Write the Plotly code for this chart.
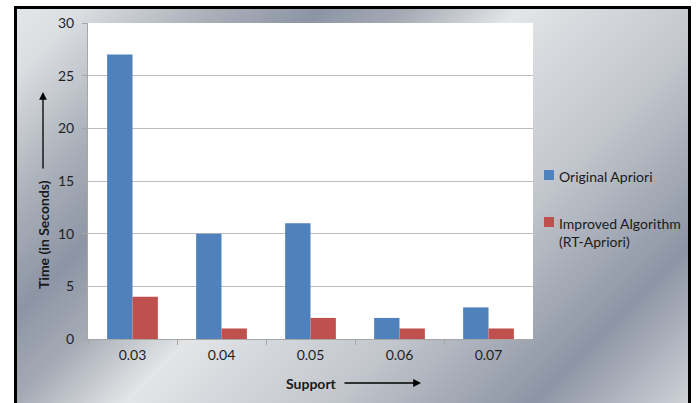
import base64
import plotly.graph_objects as go

# ---- data ----
support = ["0.03", "0.04", "0.05", "0.06", "0.07"]
original_apriori = [27, 10, 11, 2, 3]
improved_rt_apriori = [4, 1, 2, 1, 1]
series_names = ["Original Apriori", "Improved Algorithm<br>(RT-Apriori)"]
y_ticks = [0, 5, 10, 15, 20, 25, 30]

W, H = 697, 403
L, R, T, B = 88, 164, 23, 64
PW, PH = W - L - R, H - T - B


def px(x):
    return (x - L) / PW


def py(y):
    return (H - B - y) / PH


FONT = "Lato"
BLUE = "#4f81bd"
RED = "#c0504d"

# metallic gradient background (svg)
stops = [
    (0.00, "#e6e8ea"), (0.08, "#dcdfe2"), (0.20, "#abb1ba"), (0.30, "#8d94a4"),
    (0.38, "#a5abb5"), (0.48, "#e3e5e7"), (0.56, "#d4d7db"), (0.66, "#c4c8ce"),
    (0.75, "#aab0ba"), (0.85, "#8d94a4"), (1.00, "#d2d5da"),
]
gw, gh = 674, 412
stop_xml = "".join(f'<stop offset="{o}" stop-color="{c}"/>' for o, c in stops)
svg = (
    f'<svg xmlns="http://www.w3.org/2000/svg" width="{gw}" height="{gh}" viewBox="0 0 {gw} {gh}" preserveAspectRatio="none">'
    f'<defs><linearGradient id="g" gradientUnits="userSpaceOnUse" x1="-16" y1="-8" x2="534" y2="542">{stop_xml}</linearGradient></defs>'
    f'<rect width="{gw}" height="{gh}" fill="url(#g)"/></svg>'
)
src = "data:image/svg+xml;base64," + base64.b64encode(svg.encode()).decode()

fig = go.Figure()
fig.add_trace(go.Bar(x=support, y=original_apriori, name=series_names[0], marker_color=BLUE, marker_line_width=0))
fig.add_trace(go.Bar(x=support, y=improved_rt_apriori, name=series_names[1], marker_color=RED, marker_line_width=0))

fig.update_layout(
    width=W, height=H,
    margin=dict(l=L, r=R, t=T, b=B, pad=0),
    paper_bgcolor="white",
    plot_bgcolor="white",
    barmode="group",
    bargap=0.43,
    bargroupgap=0,
    showlegend=False,
    font=dict(family=FONT, size=14, color="#1f1f1f"),
    images=[dict(source=src, xref="paper", yref="paper", x=px(16), y=py(8),
                 sizex=gw / PW, sizey=gh / PH, xanchor="left", yanchor="top",
                 sizing="stretch", layer="below")],
)
fig.update_yaxes(
    range=[0, 30], tickvals=y_ticks, showgrid=True, gridcolor="#bdbdbd", gridwidth=1,
    zeroline=False, showline=True, linecolor="#a6a6a6", linewidth=1,
    ticks="outside", ticklen=5, tickcolor="#a6a6a6", ticklabelstandoff=5, fixedrange=True,
)
fig.update_xaxes(
    showgrid=False, showline=True, linecolor="#a6a6a6", linewidth=1,
    ticks="outside", ticklen=5, tickcolor="#a6a6a6", tickson="boundaries",
    ticklabelstandoff=3, fixedrange=True,
)

# white plot area above the gradient image
fig.add_shape(type="rect", xref="paper", yref="paper", x0=0, x1=1, y0=0, y1=1,
              fillcolor="white", line_width=0, layer="below")
# frame
fig.add_shape(type="rect", xref="paper", yref="paper", x0=px(15.5), x1=px(689.5),
              y0=py(425), y1=py(7.5), line=dict(color="black", width=3), layer="above")

ann = []
# axis titles
ann.append(dict(text="<b>Time (in Seconds)</b>", x=px(43), y=py(235), xref="paper", yref="paper",
                xanchor="center", yanchor="middle",
                textangle=-90, showarrow=False, font=dict(size=14, color="#1a1a1a")))
ann.append(dict(text="<b>Support</b>", x=px(311), y=py(383), xref="paper", yref="paper",
                xanchor="center", yanchor="middle",
                showarrow=False, font=dict(size=14, color="#1a1a1a")))
# arrows
ann.append(dict(text="", x=px(43), y=py(92), xref="paper", yref="paper", ax=0, ay=78,
                showarrow=True, arrowhead=2, arrowsize=1.2, arrowwidth=1.3, arrowcolor="black"))
ann.append(dict(text="", x=px(421), y=py(383), xref="paper", yref="paper", ax=-78, ay=0,
                showarrow=True, arrowhead=2, arrowsize=1.2, arrowwidth=1.3, arrowcolor="black"))
# legend (manual)
leg = [(series_names[0], BLUE, 175), (series_names[1], RED, 222)]
for name, col, yc in leg:
    fig.add_shape(type="rect", xref="paper", yref="paper", x0=px(544), x1=px(554),
                  y0=py(yc + 5), y1=py(yc - 5), fillcolor=col, line_width=0)
    ann.append(dict(text=name, x=px(557), y=py(yc - 9), xref="paper", yref="paper",
                    xanchor="left", yanchor="top", align="left", showarrow=False,
                    font=dict(size=14, color="#1a1a1a")))
fig.update_layout(annotations=ann)

fig.write_html("out.html")
